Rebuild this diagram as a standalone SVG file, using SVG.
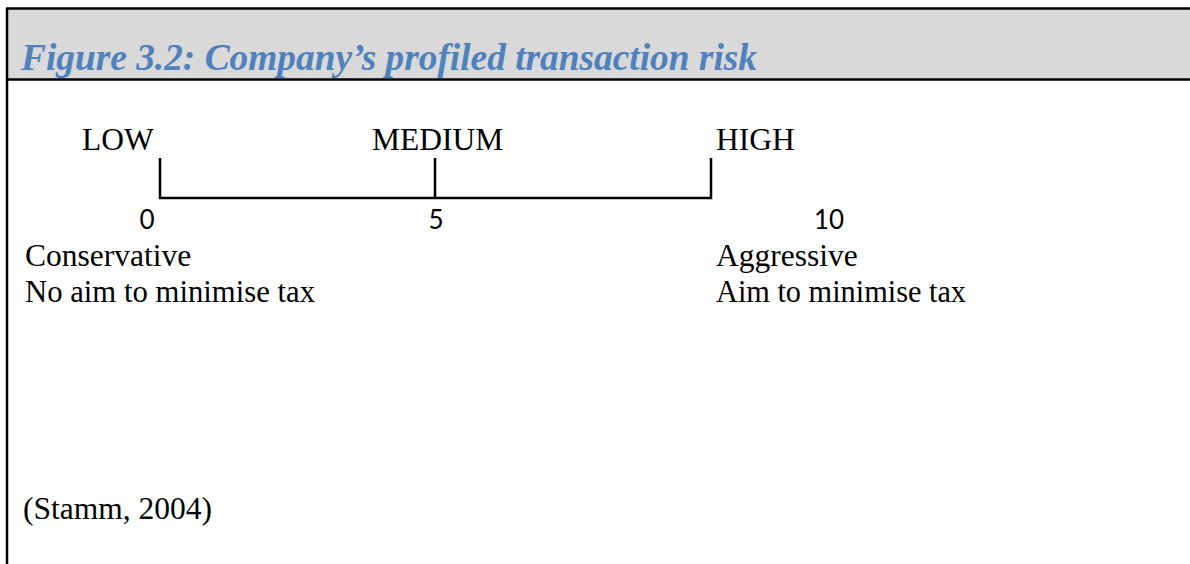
<svg xmlns="http://www.w3.org/2000/svg" width="1190" height="564" viewBox="0 0 1190 564">
<style>
.t{font-family:"Liberation Serif","Times New Roman",serif;font-size:31.5px;fill:#000}
.n{font-family:Lato,"Open Sans",sans-serif;font-size:26px;fill:#000;text-anchor:middle}
.ttl{font-family:"Liberation Serif","Times New Roman",serif;font-size:37px;font-weight:bold;font-style:italic;fill:#4f81bd}
.ln{stroke:#000;stroke-width:2.5;fill:none}
</style>
<rect x="8" y="9" width="1182" height="70" fill="#d9d9d9"/>
<g id="frame">
<line class="ln" x1="6" y1="8.5" x2="1190" y2="8.5"/>
<line class="ln" x1="6" y1="79.5" x2="1190" y2="79.5"/>
<line class="ln" x1="7" y1="8" x2="7" y2="564"/>
</g>
<g id="title"><text class="ttl" x="21" y="70" textLength="736" lengthAdjust="spacingAndGlyphs">Figure 3.2: Company’s profiled transaction risk</text></g>
<g id="connectors">
<path class="ln" d="M160,158 V198 H711 V158"/>
<line class="ln" x1="435" y1="158" x2="435" y2="198"/>
</g>
<g id="low"><text class="t" x="82" y="150">LOW</text><text class="n" x="147" y="229">0</text></g>
<g id="medium"><text class="t" x="372" y="150">MEDIUM</text><text class="n" x="436" y="229">5</text></g>
<g id="high"><text class="t" x="716" y="150">HIGH</text><text class="n" x="829" y="229">10</text></g>
<g id="left-desc"><text class="t" x="25" y="266">Conservative</text><text class="t" x="25" y="302" textLength="290" lengthAdjust="spacingAndGlyphs">No aim to minimise tax</text></g>
<g id="right-desc"><text class="t" x="716" y="266">Aggressive</text><text class="t" x="716" y="302" textLength="250" lengthAdjust="spacingAndGlyphs">Aim to minimise tax</text></g>
<g id="source"><text class="t" x="23" y="519">(Stamm, 2004)</text></g>
</svg>
